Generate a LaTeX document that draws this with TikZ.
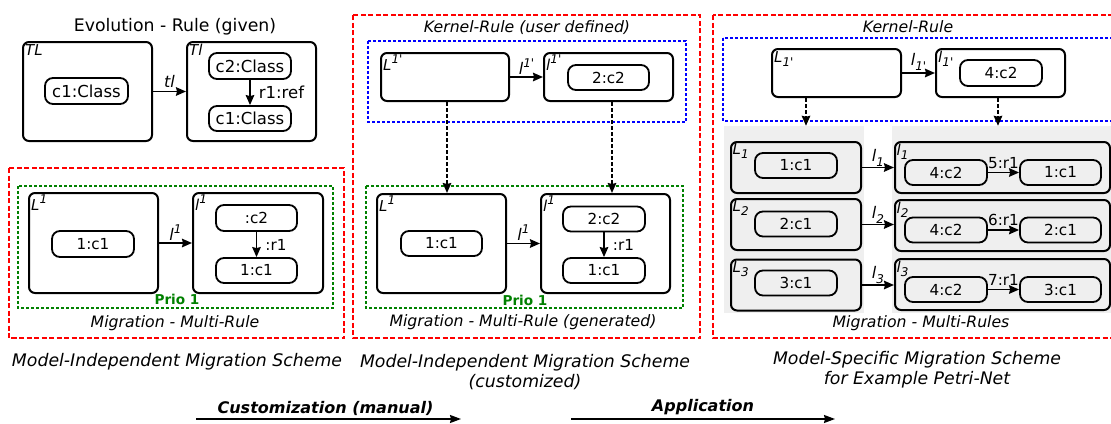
\documentclass[tikz,border=0pt]{standalone}
\usepackage{fontspec}
\setmainfont{DejaVu Sans}
\usetikzlibrary{arrows.meta,calc}
\definecolor{redd}{RGB}{255,0,0}
\definecolor{greend}{RGB}{0,128,0}
\definecolor{blued}{RGB}{0,0,255}
\definecolor{panelgray}{RGB}{239,239,239}
\newcommand\fTitle{\fontsize{17.3}{20}\selectfont}
\newcommand\fCap{\fontsize{17.3}{20.5}\selectfont}
\newcommand\fSub{\fontsize{15.7}{18}\selectfont}
\newcommand\fEvo{\fontsize{16.5}{19}\selectfont}
\newcommand\fBox{\fontsize{15.2}{18}\selectfont}
\newcommand\fLab{\fontsize{16}{18}\selectfont}
\newcommand\fCorner{\fontsize{15}{17}\selectfont}
\newcommand\fSmall{\fontsize{12}{13}\selectfont}
\newcommand\fPrio{\fontsize{13.6}{16}\selectfont}
\newcommand\fBig{\fontsize{16}{19}\selectfont}
\newcommand\supx[1]{\raisebox{0.42em}{\fSmall #1}}
\newcommand\subx[1]{\raisebox{-0.28em}{\fSmall #1}}
\newcommand\onep{1\textquotesingle}
\begin{document}
\begin{tikzpicture}[x=1pt,y=-1pt,
  frame/.style={draw, line width=2pt, rounded corners=6pt, inner sep=0pt},
  cls/.style={draw, line width=1.8pt, rounded corners=8pt, inner sep=0pt, font=\fBox},
  corner/.style={anchor=north west, inner sep=1pt, font=\fCorner\itshape},
  arr/.style={line width=1.8pt, -{Stealth[length=10pt,width=8.5pt,inset=1pt]}},
  dasharr/.style={arr, dash pattern=on 3.5pt off 2.5pt},
  redbox/.style={draw=redd, line width=1.8pt, dash pattern=on 5pt off 2.5pt},
  greenbox/.style={draw=greend, line width=1.8pt, dash pattern=on 3pt off 2pt},
  bluebox/.style={draw=blued, line width=1.8pt, dash pattern=on 3pt off 2pt},
  sublabel/.style={font=\fSub\itshape, inner sep=0pt},
  caption/.style={font=\fCap\itshape, align=center, inner sep=0pt},
  prio/.style={font=\fPrio\bfseries, text=greend, inner sep=0pt},
  elab/.style={font=\fLab\itshape, inner sep=2pt},
  rlab/.style={font=\fBox, inner sep=2pt},
  bigarr/.style={line width=1.6pt, -{Stealth[length=11pt,width=8pt,inset=1pt]}},
  boldlab/.style={font=\fBig\bfseries\itshape, inner sep=2pt}
]
\useasboundingbox (0,0) rectangle (1111,423);
\fill[white] (0,0) rectangle (1111,423);
\clip (0,0) rectangle (1111,423);

% ---------------- Evolution rule
\node[font=\fTitle, inner sep=0pt] (evotitle) at (175,27) {Evolution - Rule (given)};
\node[frame, minimum width=129pt, minimum height=99pt] (EL) at (87.5,91.5) {};
\node[corner] (ELlab) at ([shift={(2,2)}]EL.north west) {TL};
\node[cls, font=\fEvo, minimum width=83pt, minimum height=26pt] (ELc1) at (86.5,91) {c1:Class};
\node[frame, minimum width=129pt, minimum height=99pt] (ER) at (251.5,91.5) {};
\node[corner] (ERlab) at ([shift={(2,2)}]ER.north west) {Tl};
\node[cls, font=\fEvo, minimum width=82pt, minimum height=26pt] (ERc2) at (250,66) {c2:Class};
\node[cls, font=\fEvo, minimum width=82pt, minimum height=25pt] (ERc1) at (250,118.5) {c1:Class};
\draw[arr] (EL) -- node[elab, above=1pt] (tllab) {tl} (ER);
\draw[arr] (ERc2) -- node[font=\fEvo, right=8pt, inner sep=0pt] (r1ref) {r1:ref} (ERc1);

% ---------------- Left migration multi-rule
\draw[redbox] (9,168) rectangle (344,338);
\draw[greenbox] (18,186) rectangle (333,308);
\node[frame, minimum width=129pt, minimum height=100pt] (AL) at (93.5,243) {};
\node[corner] (ALlab) at ([shift={(2,2)}]AL.north west) {L\supx{1}};
\node[cls, minimum width=82pt, minimum height=26pt] (ALc1) at (93,244) {1:c1};
\node[frame, minimum width=130pt, minimum height=100pt] (AR) at (258,243) {};
\node[corner] (ARlab) at ([shift={(2,2)}]AR.north west) {l\supx{1}};
\node[cls, minimum width=81pt, minimum height=26pt] (ARc2) at (256.5,218) {:c2};
\node[cls, minimum width=81pt, minimum height=25pt] (ARc1) at (256.5,270.5) {1:c1};
\draw[arr] (AL) -- node[elab, above] (Aelab) {l\supx{1}} (AR);
\draw[arr] (ARc2) -- node[rlab, right=8pt, inner sep=0pt] (Ar1) {:r1} (ARc1);
\node[prio] (Aprio) at (177,299) {Prio 1};
\node[sublabel] (Asub) at (175,323) {Migration - Multi-Rule};
\node[caption] (Acap) at (177,362) {Model-Independent Migration Scheme};

% ---------------- Middle (customized)
\draw[redbox] (353,15) rectangle (700,338);
\node[sublabel] (Bsub1) at (527,28) {Kernel-Rule (user defined)};
\draw[bluebox] (368,41) rectangle (686,122);
\node[frame, minimum width=128pt, minimum height=48pt] (BKL) at (445,77) {};
\node[corner] (BKLlab) at ([shift={(2,2)}]BKL.north west) {L\supx{\onep}};
\node[frame, minimum width=129pt, minimum height=48pt] (BKR) at (608.5,77) {};
\node[corner] (BKRlab) at ([shift={(2,2)}]BKR.north west) {l\supx{\onep}};
\node[cls, minimum width=81pt, minimum height=25pt] (BKRc2) at (608.5,77.5) {2:c2};
\draw[arr] (BKL) -- node[elab, above] (BKelab) {l\supx{\onep}} (BKR);
\draw[greenbox] (366,186) rectangle (683,308);
\node[frame, minimum width=129pt, minimum height=99pt] (BML) at (441.5,243.5) {};
\node[corner] (BMLlab) at ([shift={(2,2)}]BML.north west) {L\supx{1}};
\node[cls, minimum width=81pt, minimum height=25pt] (BMLc1) at (441.5,243.5) {1:c1};
\node[frame, minimum width=129pt, minimum height=99pt] (BMR) at (605.5,243.5) {};
\node[corner] (BMRlab) at ([shift={(2,2)}]BMR.north west) {l\supx{1}};
\node[cls, minimum width=82pt, minimum height=25pt] (BMRc2) at (604,219) {2:c2};
\node[cls, minimum width=82pt, minimum height=25pt] (BMRc1) at (604,270.5) {1:c1};
\draw[arr] (BML) -- node[elab, above] (BMelab) {l\supx{1}} (BMR);
\draw[arr] (BMRc2) -- node[rlab, right=8pt, inner sep=0pt] (Br1) {:r1} (BMRc1);
\coordinate (bka) at ([xshift=2pt]BKL.south);
\coordinate (bkb) at ([xshift=3.5pt]BKR.south);
\draw[dasharr] (bka) -- (bka |- BML.north);
\draw[dasharr] (bkb) -- (bkb |- BMR.north);
\node[prio] (Bprio) at (525,300) {Prio 1};
\node[sublabel] (Bsub2) at (523,322) {Migration - Multi-Rule (generated)};
\node[caption] (Bcap) at (525,372) {Model-Independent Migration Scheme\\(customized)};

% ---------------- Right (model specific)
\draw[redbox] (713,15) rectangle (1130,338);
\node[sublabel] (Csub1) at (908,27) {Kernel-Rule};
\draw[bluebox] (723,38) rectangle (1130,121);
\node[frame, minimum width=129pt, minimum height=48pt] (CKL) at (836.5,73) {};
\node[corner] (CKLlab) at ([shift={(2,2)}]CKL.north west) {L\subx{\onep}};
\node[frame, minimum width=129pt, minimum height=48pt] (CKR) at (1000.5,73) {};
\node[corner] (CKRlab) at ([shift={(2,2)}]CKR.north west) {l\subx{\onep}};
\node[cls, minimum width=82pt, minimum height=26pt] (CKRc2) at (1001,73) {4:c2};
\draw[arr] (CKL) -- node[elab, above] (CKelab) {l\subx{\onep}} (CKR);
\node[fill=panelgray, inner sep=0pt, minimum width=140pt, minimum height=187pt] (P1) at (794,219.5) {};
\node[fill=panelgray, inner sep=0pt, minimum width=238pt, minimum height=187pt] (P2) at (1011,219.5) {};
\coordinate (cka) at ([xshift=-30.5pt]CKL.south);
\coordinate (ckb) at ([xshift=-2.5pt]CKR.south);
\draw[dasharr] (cka) -- (cka |- P1.north);
\draw[dasharr] (ckb) -- (ckb |- P2.north);
\foreach \i/\ly/\lcy/\ry/\rcy/\rn in {1/167.5/165.5/167.5/172.5/5, 2/224.5/224/225.5/230/6, 3/285/283/284.5/289.5/7} {
  \node[frame, minimum width=130pt, minimum height=51pt] (RL\i) at (796,\ly) {};
  \node[corner] (RLlab\i) at ([shift={(1.5,1.5)}]RL\i.north west) {L\subx{\i}};
  \node[cls, minimum width=82pt, minimum height=25pt] (RLc\i) at (796,\lcy) {\i:c1};
  \node[frame, minimum width=215pt, minimum height=51pt] (RR\i) at (1002.5,\ry) {};
  \node[corner] (RRlab\i) at ([shift={(1.5,1.5)}]RR\i.north west) {l\subx{\i}};
  \node[cls, minimum width=82pt, minimum height=25pt] (RRa\i) at (946,\rcy) {4:c2};
  \node[cls, minimum width=81pt, minimum height=25pt] (RRb\i) at (1060.5,\rcy) {\i:c1};
  \draw[arr] (RL\i.east) -- node[elab, above, inner sep=0.5pt] (RE\i) {l\subx{\i}} (RL\i.east -| RR\i.west);
  \draw[arr] (RRa\i) -- node[rlab, above=1pt] (RN\i) {\rn:r1} (RRb\i);
}
\node[sublabel] (Csub2) at (921,323) {Migration - Multi-Rules};
\node[caption] (Ccap) at (917,369.5) {Model-Specific Migration Scheme\\for Example Petri-Net};

% ---------------- Bottom arrows
\coordinate (m1s) at (196,419);
\coordinate (m1e) at (461,419);
\coordinate (m2s) at (571,419);
\coordinate (m2e) at (835,419);
\draw[bigarr] (m1s) -- node[boldlab, above=1pt, xshift=-3pt] (custlab) {Customization (manual)} (m1e);
\draw[bigarr] (m2s) -- node[boldlab, above=1pt] (applab) {Application} (m2e);
\end{tikzpicture}
\end{document}
